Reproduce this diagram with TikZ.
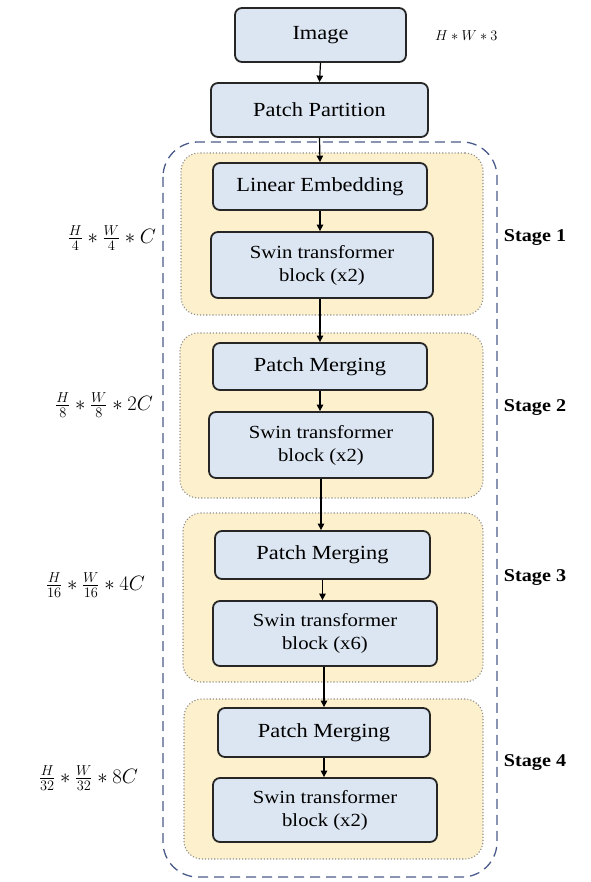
\documentclass[tikz,border=0pt]{standalone}
\usepackage{fontspec}
\setmainfont[FakeStretch=1.12]{Liberation Serif}
\usetikzlibrary{arrows.meta,positioning}
\definecolor{boxblue}{HTML}{DCE6F2}
\definecolor{stageyel}{HTML}{FDF0CC}
\definecolor{outerdash}{HTML}{4A5A8A}
\definecolor{dotgray}{HTML}{8C8C8C}
\tikzset{
  blk/.style={draw=black!85, line width=1.8pt, fill=boxblue, rounded corners=7pt, align=center, inner sep=0pt},
  bigtxt/.style={font=\fontsize{20}{22}\selectfont},
  swtxt/.style={font=\fontsize{18.5}{23}\selectfont},
  stagebox/.style={draw=dotgray, dotted, line width=1.1pt, fill=stageyel, rounded corners=18pt, inner sep=0pt},
  arr/.style={-{Triangle[length=6.5pt,width=6.5pt]}, line width=1.2pt, black},
  stagelbl/.style={font=\bfseries\fontsize{18}{20}\selectfont},
  dimlbl/.style={font=\fontsize{21}{24}\selectfont, anchor=east, inner sep=1pt},
}
\begin{document}
\begin{tikzpicture}[x=1pt,y=-1pt]
\useasboundingbox (0,0) rectangle (590,882);
% outer dashed
\draw[outerdash, dash pattern=on 10pt off 6pt, line width=1.3pt, rounded corners=35pt] (163,142) rectangle (497,877);
% stage backgrounds
\node[stagebox, minimum width=302pt, minimum height=162pt] (s1) at (332,234) {};
\node[stagebox, minimum width=303pt, minimum height=165pt] (s2) at (331.5,415.5) {};
\node[stagebox, minimum width=300pt, minimum height=169pt] (s3) at (333,597.5) {};
\node[stagebox, minimum width=299pt, minimum height=160pt] (s4) at (333.5,779) {};
% blocks
\node[blk, bigtxt, minimum width=171pt, minimum height=54pt] (img) at (320.5,35) {Image};
\node[blk, bigtxt, minimum width=217pt, minimum height=54pt] (pp) at (319.5,110) {Patch Partition};
\node[blk, bigtxt, minimum width=214pt, minimum height=47pt] (le) at (320,186.5) {Linear Embedding};
\node[blk, swtxt, minimum width=222pt, minimum height=66pt] (sw1) at (322,265) {Swin transformer\\block (x2)};
\node[blk, bigtxt, minimum width=214pt, minimum height=47pt] (pm2) at (320,366.5) {Patch Merging};
\node[blk, swtxt, minimum width=224pt, minimum height=66pt] (sw2) at (321,445) {Swin transformer\\block (x2)};
\node[blk, bigtxt, minimum width=215pt, minimum height=48pt] (pm3) at (322.5,555) {Patch Merging};
\node[blk, swtxt, minimum width=224pt, minimum height=65pt] (sw3) at (325,633.5) {Swin transformer\\block (x6)};
\node[blk, bigtxt, minimum width=212pt, minimum height=49pt] (pm4) at (324,732.5) {Patch Merging};
\node[blk, swtxt, minimum width=224pt, minimum height=64pt] (sw4) at (325,810) {Swin transformer\\block (x2)};
% arrows
\draw[arr] (img.south) -- (pp.north);
\draw[arr] (pp.south) -- (le.north);
\draw[arr] (le.south) -- (le.south |- sw1.north);
\draw[arr] (sw1.south -| le.south) -- (pm2.north);
\draw[arr] (pm2.south) -- (pm2.south |- sw2.north);
\draw[arr] (sw2.south) -- (sw2.south |- pm3.north);
\draw[arr] (pm3.south) -- (pm3.south |- sw3.north);
\draw[arr] (sw3.south -| pm4.north) -- (pm4.north);
\draw[arr] (pm4.south) -- (pm4.south |- sw4.north);
% labels
\node[anchor=west, font=\fontsize{14.5}{17}\selectfont, inner sep=1pt] (dim0) at (434,36) {$H*W*3$};
\node[dimlbl] (dim1) at (157,238) {$\frac{H}{4}*\frac{W}{4}*C$};
\node[dimlbl] (dim2) at (154,405) {$\frac{H}{8}*\frac{W}{8}*2C$};
\node[dimlbl] (dim3) at (146,585) {$\frac{H}{16}*\frac{W}{16}*4C$};
\node[dimlbl] (dim4) at (139,778) {$\frac{H}{32}*\frac{W}{32}*8C$};
\node[stagelbl] (st1) at (535,238) {Stage 1};
\node[stagelbl] (st2) at (535,408) {Stage 2};
\node[stagelbl] (st3) at (535,578) {Stage 3};
\node[stagelbl] (st4) at (535,763) {Stage 4};
\end{tikzpicture}
\end{document}
